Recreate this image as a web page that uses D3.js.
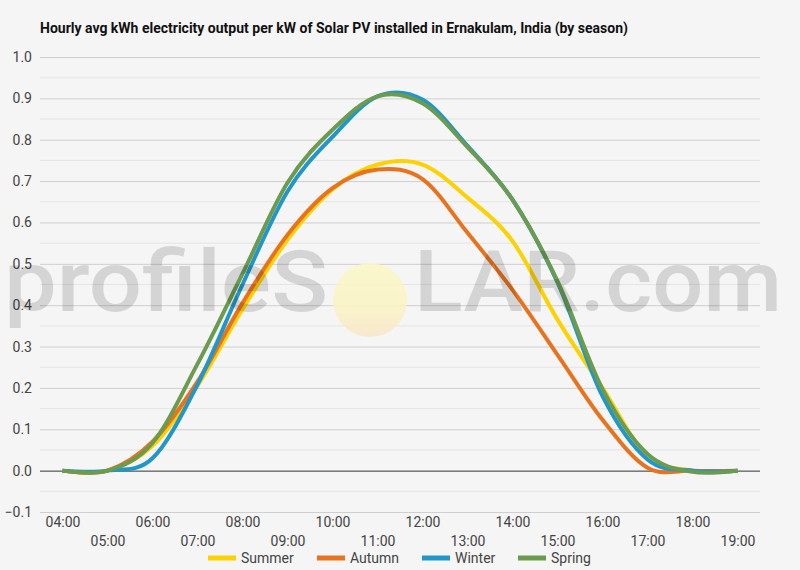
<!DOCTYPE html>
<html>
<head>
<meta charset="utf-8">
<script src="https://cdn.jsdelivr.net/npm/d3@7"></script>
<style>
  html, body { margin: 0; padding: 0; background: #f5f5f5; }
  svg { display: block; font-family: Roboto, "Noto Sans", sans-serif; }
</style>
</head>
<body>
<div id="chart"></div>
<script>
// Data
const hours = ["04:00", "05:00", "06:00", "07:00", "08:00", "09:00", "10:00", "11:00",
               "12:00", "13:00", "14:00", "15:00", "16:00", "17:00", "18:00", "19:00"];
const summer = [0, 0.0, 0.06, 0.205, 0.39, 0.558, 0.68, 0.74, 0.74, 0.66, 0.555, 0.365, 0.2, 0.035, 0.0, 0];
const autumn = [0, 0.0, 0.07, 0.215, 0.405, 0.57, 0.683, 0.728, 0.705, 0.575, 0.437, 0.28, 0.123, 0.007, 0.0, 0];
const winter = [0, 0.0, 0.03, 0.208, 0.45, 0.675, 0.807, 0.905, 0.897, 0.785, 0.655, 0.455, 0.18, 0.027, 0.0, 0];
const spring = [0, 0.0, 0.067, 0.258, 0.476, 0.696, 0.824, 0.905, 0.888, 0.782, 0.655, 0.458, 0.197, 0.04, -0.003, 0];
const yTicks = [-0.1, 0, 0.1, 0.2, 0.3, 0.4, 0.5, 0.6, 0.7, 0.8, 0.9, 1.0];

const series = [
  { name: "Summer", values: summer, color: "#fcd202" },
  { name: "Autumn", values: autumn, color: "#e8731f" },
  { name: "Winter", values: winter, color: "#2196c9" },
  { name: "Spring", values: spring, color: "#6b9b4f" }
];

const W = 800, H = 570;
const plotLeft = 40, plotRight = 760, plotTop = 57, plotBottom = 512;

const svg = d3.select("#chart").append("svg")
  .attr("width", W).attr("height", H);

svg.append("rect").attr("width", W).attr("height", H).attr("fill", "#f5f5f5");

// Title
svg.append("text")
  .attr("x", 40).attr("y", 33)
  .attr("font-size", 14).attr("font-weight", "bold").attr("fill", "#111")
  .text("Hourly avg kWh electricity output per kW of Solar PV installed in Ernakulam, India (by season)");

// Scales
const x = d3.scalePoint().domain(hours).range([plotLeft, plotRight]).padding(0.5);
const y = d3.scaleLinear().domain([-0.1, 1.0]).range([plotBottom, plotTop]);

// Grid (minor every 0.05, major every 0.1)
const minor = d3.range(-0.1, 1.0001, 0.05).map(v => +v.toFixed(2));
svg.append("g").selectAll("line")
  .data(minor.filter(v => Math.round(v * 100) % 10 !== 0))
  .join("line")
  .attr("x1", plotLeft).attr("x2", plotRight)
  .attr("y1", d => y(d)).attr("y2", d => y(d))
  .attr("stroke", "#e4e4e4").attr("stroke-width", 1);

const gy = svg.append("g")
  .attr("transform", `translate(${plotLeft},0)`)
  .call(d3.axisLeft(y).tickValues(yTicks).tickSize(-(plotRight - plotLeft)).tickFormat(d3.format(".1f")));
gy.select(".domain").remove();
gy.selectAll(".tick line").attr("stroke", d => d === 0 ? "#333" : "#cfcfcf");
gy.selectAll(".tick text")
  .attr("x", -8).attr("font-size", 14).attr("fill", "#444")
  .style("font-family", "Roboto, sans-serif");

// X axis labels staggered on two rows
const gx = svg.append("g")
  .attr("transform", `translate(0,${plotBottom})`)
  .call(d3.axisBottom(x).tickSize(0));
gx.select(".domain").remove();
gx.selectAll(".tick text")
  .attr("y", (d, i) => i % 2 === 0 ? 5 : 24)
  .attr("dy", "0.71em")
  .attr("font-size", 14).attr("fill", "#444")
  .style("font-family", "Roboto, sans-serif");

// Lines
const line = d3.line()
  .x((d, i) => x(hours[i]))
  .y(d => y(d))
  .curve(d3.curveCardinal.tension(0));

svg.append("g").selectAll("path")
  .data(series)
  .join("path")
  .attr("d", d => line(d.values))
  .attr("fill", "none")
  .attr("stroke", d => d.color)
  .attr("stroke-width", 4)
  .attr("stroke-linejoin", "round");

// Watermark
const wm = svg.append("g").attr("pointer-events", "none");
const grad = svg.append("defs").append("linearGradient").attr("id", "sun")
  .attr("x1", 0).attr("y1", 0).attr("x2", 0).attr("y2", 1);
grad.append("stop").attr("offset", "0%").attr("stop-color", "#fbf7c6");
grad.append("stop").attr("offset", "60%").attr("stop-color", "#faf3c2");
grad.append("stop").attr("offset", "100%").attr("stop-color", "#f8e6c8");
wm.append("circle").attr("cx", 370).attr("cy", 300).attr("r", 37)
  .attr("fill", "url(#sun)").attr("opacity", 0.85);
wm.append("text")
  .attr("x", 4).attr("y", 311)
  .attr("font-size", 86).attr("font-family", "Roboto, sans-serif").attr("font-weight", 500)
  .attr("fill", "#000").attr("opacity", 0.13)
  .attr("textLength", 324).attr("lengthAdjust", "spacingAndGlyphs")
  .text("profileS");
wm.append("text")
  .attr("x", 414).attr("y", 311)
  .attr("font-size", 86).attr("font-family", "Roboto, sans-serif").attr("font-weight", 500)
  .attr("fill", "#000").attr("opacity", 0.13)
  .attr("textLength", 368).attr("lengthAdjust", "spacingAndGlyphs")
  .text("LAR.com");

// Legend
const legendX = [208, 317, 422, 518];
const lg = svg.append("g").selectAll("g")
  .data(series)
  .join("g")
  .attr("transform", (d, i) => `translate(${legendX[i]},558)`);
lg.append("line")
  .attr("x1", 0).attr("x2", 28)
  .attr("stroke", d => d.color).attr("stroke-width", 5);
lg.append("text")
  .attr("x", 33).attr("dy", "0.35em")
  .attr("font-size", 14).attr("fill", "#444")
  .text(d => d.name);
</script>
</body>
</html>
